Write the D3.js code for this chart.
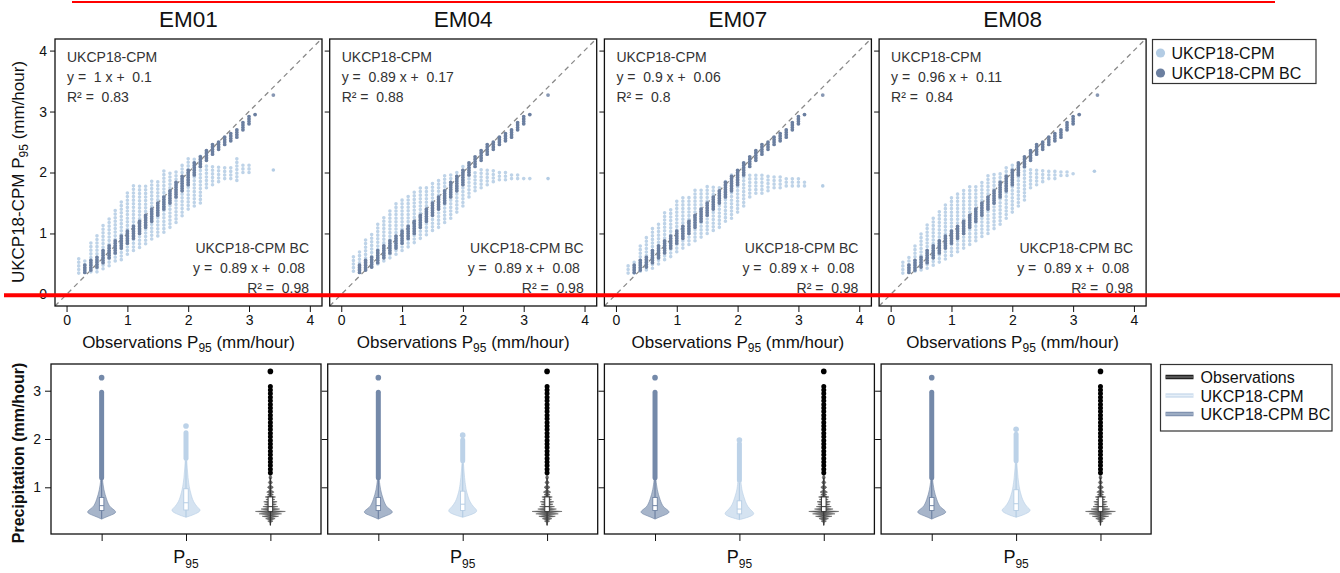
<!DOCTYPE html>
<html>
<head>
<meta charset="utf-8">
<script src="https://cdn.jsdelivr.net/npm/d3@7"></script>
<style>
  body { margin: 0; background: #fff; }
  svg { font-family: "Liberation Sans", Arial, sans-serif; }
  .tick text { font-size: 14px; fill: #111; }
  .tick line { stroke: #111; }
</style>
</head>
<body>
<svg id="chart"></svg>
<script>
const members = ["EM01", "EM04", "EM07", "EM08"];
const cpmSlopes = ["1", "0.89", "0.9", "0.96"];
const cpmIntercepts = ["0.1", "0.17", "0.06", "0.11"];
const cpmR2 = ["0.83", "0.88", "0.8", "0.84"];
const bcFit = ["0.89", "0.08", "0.98"];
const scatterTicks = [0, 1, 2, 3, 4];
const violinTicks = [1, 2, 3];
const groups = ["UKCP18-CPM BC", "UKCP18-CPM", "Observations"];

// scatter columns: [observed P95, lowest model P95, highest model P95]
const cpmColsEM01 = [[0.2,0.35,0.6],[0.3,0.37,0.6],[0.4,0.37,0.87],[0.5,0.37,1.0],[0.6,0.42,1.14],[0.7,0.47,1.29],[0.8,0.55,1.39],[0.9,0.57,1.53],[1.0,0.66,1.7],[1.1,0.72,1.82],[1.2,0.77,1.82],[1.3,0.83,1.83],[1.4,0.91,1.89],[1.5,0.96,1.89],[1.6,1.02,2.04],[1.7,1.1,2.04],[1.8,1.18,2.04],[1.9,1.29,2.14],[2.0,1.4,2.27],[2.1,1.45,2.27],[2.2,1.5,2.27],[2.3,1.75,2.14],[2.4,1.8,2.14],[2.5,1.85,2.1],[2.6,1.9,2.1],[2.7,1.9,2.1],[2.8,1.87,2.27],[2.9,2.0,2.12],[3.0,2.0,2.12]];
const cpmColsEM04 = [[0.2,0.38,0.62],[0.3,0.4,0.7],[0.4,0.42,0.9],[0.5,0.45,1.02],[0.6,0.5,1.15],[0.7,0.55,1.3],[0.8,0.6,1.42],[0.9,0.66,1.5],[1.0,0.72,1.6],[1.1,0.78,1.65],[1.2,0.85,1.7],[1.3,0.92,1.75],[1.4,0.98,1.8],[1.5,1.05,1.85],[1.6,1.1,1.92],[1.7,1.18,1.95],[1.8,1.25,2.0],[1.9,1.35,2.05],[2.0,1.45,2.1],[2.1,1.6,2.1],[2.2,1.7,2.05],[2.3,1.75,2.05],[2.4,1.8,2.05],[2.5,1.85,2.05],[2.6,1.88,2.02],[2.7,1.88,2.0],[2.8,1.9,2.0],[2.9,1.9,2.0],[3.0,1.9,1.95],[3.1,1.9,1.92]];
const cpmColsEM07 = [[0.2,0.35,0.51],[0.3,0.35,0.57],[0.4,0.38,0.84],[0.5,0.4,0.98],[0.6,0.43,1.08],[0.7,0.5,1.19],[0.8,0.57,1.34],[0.9,0.62,1.44],[1.0,0.7,1.58],[1.1,0.76,1.6],[1.2,0.82,1.6],[1.3,0.88,1.71],[1.4,0.94,1.74],[1.5,1.0,1.78],[1.6,1.05,1.78],[1.7,1.1,1.8],[1.8,1.2,1.88],[1.9,1.25,1.99],[2.0,1.35,1.99],[2.1,1.45,1.99],[2.2,1.6,1.99],[2.3,1.66,1.99],[2.4,1.66,1.99],[2.5,1.7,1.99],[2.6,1.75,1.95],[2.7,1.75,1.95],[2.8,1.78,1.9],[2.9,1.78,1.9],[3.0,1.78,1.9],[3.1,1.78,1.88]];
const cpmColsEM08 = [[0.2,0.35,0.55],[0.3,0.37,0.65],[0.4,0.38,0.85],[0.5,0.4,1.0],[0.6,0.43,1.15],[0.7,0.48,1.28],[0.8,0.53,1.4],[0.9,0.58,1.5],[1.0,0.64,1.6],[1.1,0.7,1.7],[1.2,0.76,1.72],[1.3,0.82,1.78],[1.4,0.88,1.82],[1.5,0.95,1.88],[1.6,1.0,1.95],[1.7,1.08,1.98],[1.8,1.15,2.02],[1.9,1.25,2.08],[2.0,1.35,2.12],[2.1,1.45,2.15],[2.2,1.55,2.12],[2.3,1.75,2.1],[2.4,1.8,2.08],[2.5,1.85,2.08],[2.6,1.9,2.05],[2.7,1.9,2.05],[2.8,1.95,2.05],[2.9,1.95,2.05],[3.0,1.98,2.02]];
const cpmCols = [cpmColsEM01, cpmColsEM04, cpmColsEM07, cpmColsEM08];
const cpmLone = [[[3.4, 2.04]], [[3.4, 1.9]], [[3.4, 1.78]], [[3.35, 2.02]]];

const bcCols = [[0.3,0.36,0.5],[0.4,0.4,0.56],[0.5,0.45,0.64],[0.6,0.52,0.72],[0.7,0.6,0.8],[0.8,0.68,0.88],[0.9,0.76,0.97],[1.0,0.84,1.05],[1.1,0.92,1.14],[1.2,1.0,1.22],[1.3,1.1,1.32],[1.4,1.2,1.42],[1.5,1.3,1.52],[1.6,1.4,1.62],[1.7,1.5,1.72],[1.8,1.6,1.84],[1.9,1.7,1.94],[2.0,1.8,2.04],[2.1,1.96,2.18],[2.2,2.1,2.29],[2.3,2.2,2.38],[2.4,2.3,2.46],[2.5,2.38,2.52],[2.6,2.46,2.6],[2.7,2.52,2.66],[2.8,2.58,2.7],[2.9,2.7,2.83],[3.0,2.8,2.92],[3.1,2.95,2.98]];
const bcLone = [[3.4, 3.27]];

// violins: [value, relative density]
const bcProfile = [[0.34,0],[0.38,0.25],[0.43,0.7],[0.48,1],[0.53,0.85],[0.58,0.6],[0.65,0.45],[0.75,0.33],[0.85,0.23],[0.95,0.15],[1.05,0.1],[1.15,0.06],[1.3,0.02],[1.4,0]];
const cpmProfileEM01 = [[0.38,0],[0.42,0.4],[0.48,0.85],[0.53,1],[0.6,0.72],[0.7,0.5],[0.8,0.38],[0.9,0.3],[1.0,0.22],[1.2,0.13],[1.4,0.08],[1.6,0.04],[1.8,0]];
const cpmProfileEM04 = [[0.38,0],[0.42,0.45],[0.47,0.85],[0.52,1],[0.6,0.7],[0.7,0.48],[0.8,0.36],[0.9,0.27],[1.0,0.2],[1.2,0.12],[1.4,0.07],[1.6,0.03],[1.75,0]];
const cpmProfileEM07 = [[0.33,0],[0.37,0.5],[0.42,0.9],[0.46,1],[0.52,0.8],[0.6,0.55],[0.7,0.4],[0.8,0.3],[0.9,0.2],[1.0,0.14],[1.2,0.07],[1.4,0.03],[1.6,0]];
const cpmProfileEM08 = [[0.38,0],[0.42,0.42],[0.48,0.85],[0.53,1],[0.6,0.7],[0.7,0.5],[0.8,0.37],[0.9,0.28],[1.0,0.21],[1.2,0.12],[1.4,0.07],[1.6,0.03],[1.8,0]];
const cpmProfiles = [cpmProfileEM01, cpmProfileEM04, cpmProfileEM07, cpmProfileEM08];
const obsProfile = [[0.2,0],[0.27,0.03],[0.3,0.18],[0.32,0.03],[0.35,0.32],[0.37,0.04],[0.4,0.55],[0.42,0.05],[0.45,0.75],[0.47,0.06],[0.5,1],[0.52,0.06],[0.55,0.62],[0.57,0.05],[0.6,0.5],[0.62,0.05],[0.65,0.4],[0.67,0.05],[0.7,0.45],[0.72,0.04],[0.75,0.3],[0.77,0.04],[0.8,0.35],[0.83,0.03],[0.85,0.2],[0.88,0.03],[0.9,0.25],[0.95,0.03],[1.0,0.2],[1.05,0.02],[1.1,0.14],[1.15,0.02],[1.2,0.1],[1.3,0]];

// boxes: [whisker low, q1, median, q3, whisker high]
const bcBox = [0.35, 0.52, 0.62, 0.79, 1.18];
const cpmBoxes = [[0.38,0.53,0.68,0.97,1.55],[0.38,0.52,0.65,0.92,1.5],[0.33,0.45,0.55,0.72,1.1],[0.38,0.52,0.66,0.95,1.5]];
const obsBox = [0.22, 0.5, 0.6, 0.8, 1.2];
// outliers: [lowest, highest below max], then max
const bcOutliers = [1.2, 2.97], bcMax = 3.27;
const cpmOutliers = [[1.6, 2.13], [1.55, 1.98], [1.15, 1.9], [1.55, 2.1]];
const cpmMax = [2.27, 2.08, 1.98, 2.2];
const obsOutliers = [1.3, 3.1], obsMax = 3.4;

const colors = {
  cpm: "#b3cce4", bc: "#6b7fa0",
  cpmViolin: "#d5e3f1", bcViolin: "#a7b5ca", obsViolin: "#6a6a6a",
  cpmDots: "#bcd2e8", bcDots: "#7489a9", obsDots: "#000"
};

const sp = "\u00a0";
const svg = d3.select("#chart").attr("width", 1340).attr("height", 573);

// ---------- top row: scatter panels ----------
const topY = 39, topSize = 267;
const topX = i => 55 + i * 274.7;
const x = d3.scaleLinear().domain([-0.19, 4.2]).range([0, topSize]);
const y = d3.scaleLinear().domain([-0.19, 4.19]).range([topSize, 0]);

members.forEach((m, i) => {
  const g = svg.append("g").attr("transform", `translate(${topX(i)},${topY})`);

  g.append("clipPath").attr("id", "clip-" + m)
    .append("rect").attr("width", topSize).attr("height", topSize);

  const plot = g.append("g").attr("clip-path", `url(#clip-${m})`);

  plot.append("line")
    .attr("x1", x(-0.19)).attr("y1", y(-0.19))
    .attr("x2", x(4.2)).attr("y2", y(4.2))
    .attr("stroke", "#8a8a8a").attr("stroke-width", 1.3)
    .attr("stroke-dasharray", "5,4");

  // raw model columns
  plot.selectAll(".cpm").data(cpmCols[i]).join("line")
    .attr("class", "cpm")
    .attr("x1", d => x(d[0])).attr("x2", d => x(d[0]))
    .attr("y1", d => y(d[1])).attr("y2", d => y(d[2]))
    .attr("stroke", colors.cpm).attr("stroke-width", 3.6)
    .attr("stroke-linecap", "round").attr("stroke-dasharray", "0 3.6")
    .attr("opacity", 0.85);
  plot.selectAll(".cpmLone").data(cpmLone[i]).join("circle")
    .attr("cx", d => x(d[0])).attr("cy", d => y(d[1])).attr("r", 1.8)
    .attr("fill", colors.cpm);

  // bias-corrected columns
  plot.selectAll(".bc").data(bcCols).join("line")
    .attr("class", "bc")
    .attr("x1", d => x(d[0])).attr("x2", d => x(d[0]))
    .attr("y1", d => y(d[1])).attr("y2", d => y(d[2]))
    .attr("stroke", colors.bc).attr("stroke-width", 3.8)
    .attr("stroke-linecap", "round").attr("stroke-dasharray", "0 2.4");
  plot.selectAll(".bcLone").data(bcLone).join("circle")
    .attr("cx", d => x(d[0])).attr("cy", d => y(d[1])).attr("r", 1.9)
    .attr("fill", "#8797b3");

  g.append("rect").attr("width", topSize).attr("height", topSize)
    .attr("fill", "none").attr("stroke", "#111").attr("stroke-width", 1.3);

  const ya = g.append("g").call(
    d3.axisLeft(y).tickValues(scatterTicks).tickSize(5).tickPadding(3)
      .tickFormat(i === 0 ? d3.format("d") : "")
  );
  ya.select(".domain").remove();

  const xa = g.append("g").attr("transform", `translate(0,${topSize})`).call(
    d3.axisBottom(x).tickValues(scatterTicks).tickSize(6).tickPadding(3).tickFormat(d3.format("d"))
  );
  xa.select(".domain").remove();

  g.append("text").attr("x", topSize / 2).attr("y", -12)
    .attr("text-anchor", "middle").attr("font-size", 22.5).attr("fill", "#111")
    .text(m);

  const xl = g.append("text").attr("x", topSize / 2)
    .attr("y", 348 - topY).attr("text-anchor", "middle")
    .attr("font-size", 17).attr("fill", "#111");
  xl.append("tspan").text("Observations P");
  xl.append("tspan").attr("dy", 4).attr("font-size", 12).text("95");
  xl.append("tspan").attr("dy", -4).text(" (mm/hour)");

  const upper = [
    "UKCP18-CPM",
    `y =${sp} ${cpmSlopes[i]} x +${sp} ${cpmIntercepts[i]}`,
    `R² =${sp} ${cpmR2[i]}`
  ];
  g.selectAll(".fitTop").data(upper).join("text")
    .attr("x", 12).attr("y", (d, k) => 22.7 + k * 20)
    .attr("font-size", 14).attr("fill", "#333")
    .text(d => d);

  const lower = [
    "UKCP18-CPM BC",
    `y =${sp} ${bcFit[0]} x +${sp} ${bcFit[1]}${sp}`,
    `R² =${sp} ${bcFit[2]}`
  ];
  g.selectAll(".fitBottom").data(lower).join("text")
    .attr("x", topSize - 13).attr("y", (d, k) => 214 + k * 20)
    .attr("text-anchor", "end")
    .attr("font-size", 14).attr("fill", "#333")
    .text(d => d);
});

const yl = svg.append("text").attr("transform", "translate(24,172) rotate(-90)")
  .attr("text-anchor", "middle").attr("font-size", 17).attr("fill", "#111");
yl.append("tspan").text("UKCP18-CPM P");
yl.append("tspan").attr("dy", 4).attr("font-size", 12).text("95");
yl.append("tspan").attr("dy", -4).text(" (mm/hour)");

// top legend
const leg1 = svg.append("g").attr("transform", "translate(1152.5,39.5)");
leg1.append("rect").attr("width", 163.5).attr("height", 44)
  .attr("fill", "#fff").attr("stroke", "#333").attr("stroke-width", 1.2);
leg1.selectAll("circle").data([colors.cpm, colors.bc]).join("circle")
  .attr("cx", 8).attr("cy", (d, k) => 13.5 + k * 20).attr("r", 4.6).attr("fill", d => d);
leg1.selectAll("text").data(["UKCP18-CPM", "UKCP18-CPM BC"]).join("text")
  .attr("x", 19).attr("y", (d, k) => 19 + k * 20)
  .attr("font-size", 16).attr("fill", "#111").text(d => d);

// ---------- bottom row: violin panels ----------
const botY = 364, botH = 170, botW = 270;
const botX = i => 51 + i * 276.7;
const gx = d3.scaleLinear().domain([0.4, 3.6]).range([0, botW]);
const gy = d3.scaleLinear().domain([0.033, 3.553]).range([botH, 0]);
const wd = d3.scaleLinear().domain([0, 1]).range([0, 15]);

function violin(g, pos, profile, box, outl, maxv, fill, line, dots, spiky) {
  const cx = gx(pos);
  g.append("path").datum(profile)
    .attr("d", d3.area()
      .y(d => gy(d[0]))
      .x0(d => cx - wd(d[1]))
      .x1(d => cx + wd(d[1]))
      .curve(spiky ? d3.curveLinear : d3.curveBasis))
    .attr("fill", fill).attr("stroke", line)
    .attr("stroke-width", spiky ? 0.4 : 0.6);
  // outliers
  g.append("line")
    .attr("x1", cx).attr("x2", cx)
    .attr("y1", gy(outl[0])).attr("y2", gy(outl[1]))
    .attr("stroke", dots).attr("stroke-width", 5)
    .attr("stroke-linecap", "round")
    .attr("stroke-dasharray", spiky ? "0 3.6" : null);
  g.append("circle").attr("cx", cx).attr("cy", gy(maxv)).attr("r", 2.8).attr("fill", dots);
  // whiskers and box
  g.append("line").attr("x1", cx).attr("x2", cx)
    .attr("y1", gy(box[0])).attr("y2", gy(box[4]))
    .attr("stroke", line).attr("stroke-width", 1.2);
  g.append("rect")
    .attr("x", cx - wd(0.15)).attr("width", wd(0.3))
    .attr("y", gy(box[3])).attr("height", gy(box[1]) - gy(box[3]))
    .attr("fill", "#fff").attr("stroke", line).attr("stroke-width", 0.9);
  g.append("line").attr("x1", cx - wd(0.15)).attr("x2", cx + wd(0.15))
    .attr("y1", gy(box[2])).attr("y2", gy(box[2]))
    .attr("stroke", line).attr("stroke-width", 1);
}

members.forEach((m, i) => {
  const g = svg.append("g").attr("transform", `translate(${botX(i)},${botY})`);

  violin(g, 1, bcProfile, bcBox, bcOutliers, bcMax, colors.bcViolin, "#6f83a3", colors.bcDots, false);
  violin(g, 2, cpmProfiles[i], cpmBoxes[i], cpmOutliers[i], cpmMax[i], colors.cpmViolin, "#b5cde4", colors.cpmDots, false);
  violin(g, 3, obsProfile, obsBox, obsOutliers, obsMax, colors.obsViolin, "#333", colors.obsDots, true);

  g.append("rect").attr("width", botW).attr("height", botH)
    .attr("fill", "none").attr("stroke", "#111").attr("stroke-width", 1.3);

  const ya = g.append("g").call(
    d3.axisLeft(gy).tickValues(violinTicks).tickSize(6).tickPadding(4)
      .tickFormat(i === 0 ? d3.format("d") : "")
  );
  ya.select(".domain").remove();

  const xa = g.append("g").attr("transform", `translate(0,${botH})`)
    .call(d3.axisBottom(gx).tickValues([1, 2, 3]).tickSize(7).tickFormat(""));
  xa.select(".domain").remove();

  const pl = g.append("text").attr("x", gx(2)).attr("y", 563 - botY)
    .attr("text-anchor", "middle").attr("font-size", 18).attr("fill", "#111");
  pl.append("tspan").text("P");
  pl.append("tspan").attr("dy", 5).attr("font-size", 12).text("95");
});

svg.append("text").attr("transform", "translate(24,453) rotate(-90)")
  .attr("text-anchor", "middle").attr("font-size", 16).attr("font-weight", "bold")
  .attr("fill", "#111").text("Precipitation (mm/hour)");

// bottom legend
const legendRows = [
  { name: groups[2], color: "#222", mid: "#777" },
  { name: groups[1], color: "#cfdeee", mid: "#e6eff8" },
  { name: groups[0], color: "#8193b0", mid: "#b0bdd0" }
];
const leg2 = svg.append("g").attr("transform", "translate(1160.5,364.5)");
leg2.append("rect").attr("width", 171.5).attr("height", 66.5)
  .attr("fill", "#fff").attr("stroke", "#333").attr("stroke-width", 1.2);
const row = leg2.selectAll("g").data(legendRows).join("g")
  .attr("transform", (d, k) => `translate(0,${12.5 + k * 18.5})`);
row.append("line").attr("x1", 5).attr("x2", 33)
  .attr("stroke", d => d.color).attr("stroke-width", 4.5);
row.append("line").attr("x1", 5).attr("x2", 33)
  .attr("stroke", d => d.mid).attr("stroke-width", 1.2);
row.append("text").attr("x", 40).attr("y", 6)
  .attr("font-size", 16).attr("fill", "#111").text(d => d.name);

// red annotation strokes
svg.append("line").attr("x1", 72).attr("x2", 1275).attr("y1", 2).attr("y2", 2)
  .attr("stroke", "#ff0000").attr("stroke-width", 2);
svg.append("line").attr("x1", 4).attr("x2", 1340).attr("y1", 295.2).attr("y2", 295.2)
  .attr("stroke", "#ff0000").attr("stroke-width", 4);
</script>
</body>
</html>
